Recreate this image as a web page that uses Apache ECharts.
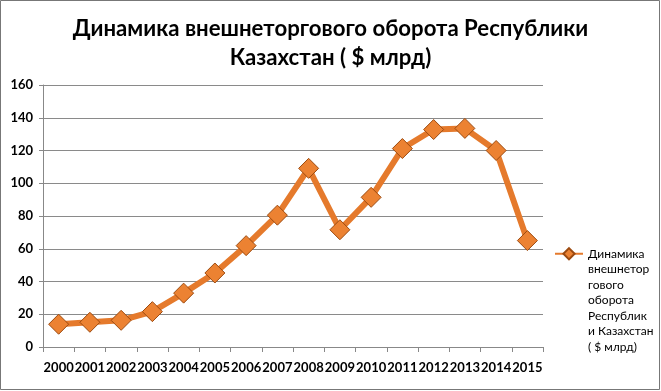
<!DOCTYPE html>
<html><head><meta charset="utf-8">
<script src="https://cdn.jsdelivr.net/npm/echarts@6/dist/echarts.min.js"></script>
<style>html,body{margin:0;padding:0;background:#fff}#c{width:661px;height:391px}</style>
</head><body><div id="c"></div>
<script>
const titleText = 'Динамика внешнеторгового оборота Республики\nКазахстан ( $ млрд)';
const seriesName = 'Динамика внешнеторгового оборота Республики Казахстан ( $ млрд)';
const legendLines = ['Динамика','внешнетор','гового','оборота','Республик','и Казахстан','( $ млрд)'];
const years = ['2000','2001','2002','2003','2004','2005','2006','2007','2008','2009','2010','2011','2012','2013','2014','2015'];
const values = [13.9, 15.1, 16.3, 21.6, 32.9, 45.2, 61.9, 80.5, 109.1, 71.6, 91.4, 121.2, 132.8, 133.5, 120.0, 65.0];
const yTicks = {min: 0, max: 160, interval: 20};

const FONT = 'Lato';
const chart = echarts.init(document.getElementById('c'));
chart.setOption({
  backgroundColor: '#fff',
  animation: false,
  title: {
    text: titleText, left: 'center', top: 9,
    textStyle: {fontFamily: FONT, fontWeight: 'bold', fontSize: 22.2, lineHeight: 29, color: '#000'}
  },
  graphic: [{type: 'rect', shape: {x: 0.5, y: 0.5, width: 659, height: 389}, style: {fill: 'none', stroke: '#777', lineWidth: 1}, silent: true}],
  grid: {left: 43, right: 118, top: 85, bottom: 44, containLabel: false},
  legend: {
    left: 549, top: 148, orient: 'vertical', itemWidth: 28, itemHeight: 14, itemGap: 0,
    formatter: () => '\n\n\n\n\n\n' + legendLines.join('\n'),
    textStyle: {fontFamily: FONT, fontSize: 12, lineHeight: 15.5, color: '#000'}
  },
  xAxis: {
    type: 'category', data: years, boundaryGap: true,
    axisLine: {lineStyle: {color: '#888'}},
    axisTick: {show: true, alignWithLabel: false, length: 5, lineStyle: {color: '#888'}},
    axisLabel: {interval: 0, fontFamily: FONT, fontWeight: 'bold', fontSize: 13, color: '#000', margin: 14}
  },
  yAxis: {
    type: 'value', min: yTicks.min, max: yTicks.max, interval: yTicks.interval,
    axisLine: {show: true, lineStyle: {color: '#888'}},
    axisTick: {show: true, length: 4, lineStyle: {color: '#888'}},
    splitLine: {lineStyle: {color: '#8a8a8a', width: 1}},
    axisLabel: {fontFamily: FONT, fontWeight: 'bold', fontSize: 13, color: '#000', margin: 10}
  },
  series: [{
    name: seriesName, type: 'line', data: values,
    symbol: 'diamond', symbolSize: 20,
    lineStyle: {color: '#E57A2C', width: 6},
    itemStyle: {color: '#EC8232', borderColor: '#9C4A10', borderWidth: 1},
    emphasis: {disabled: true}
  }]
});
</script></body></html>
